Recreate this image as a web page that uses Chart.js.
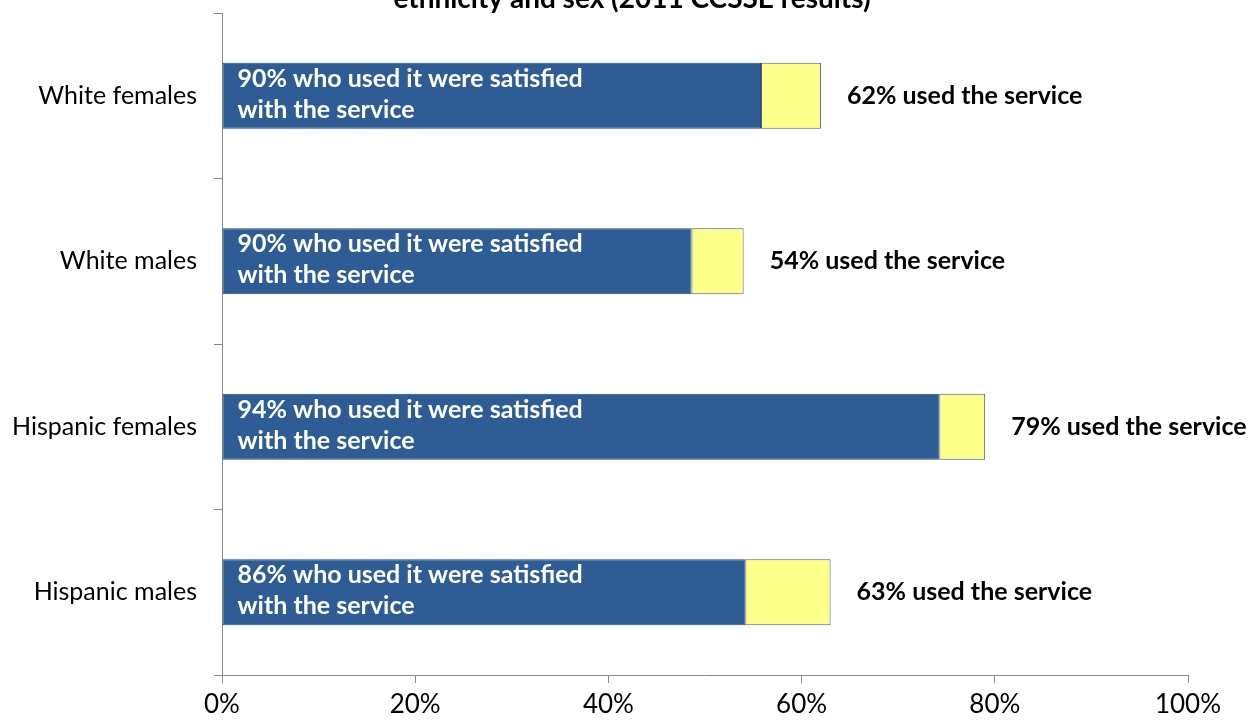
<!DOCTYPE html>
<html>
<head>
<meta charset="utf-8">
<script src="https://cdn.jsdelivr.net/npm/chart.js@4"></script>
<style>
  html, body { margin: 0; padding: 0; background: #fff; }
  #wrap { width: 1254px; height: 720px; }
</style>
</head>
<body>
<div id="wrap"><canvas id="usage"></canvas></div>
<script>
const groups = ["White females", "White males", "Hispanic females", "Hispanic males"];
const usedPct = [62, 54, 79, 63];        // share who used the service
const satisfiedPct = [90, 90, 94, 86];   // share of users who were satisfied
const xTicks = ["0%", "20%", "40%", "60%", "80%", "100%"];
const titleText = "ethnicity and sex (2011 CCSSE results)";

// split each bar: satisfied users, then the rest of the users
const satisfiedPart = usedPct.map((u, i) => u * satisfiedPct[i] / 100);
const otherPart = usedPct.map((u, i) => u - satisfiedPart[i]);

const FONT = "Lato, 'Open Sans', sans-serif";

// title sits at the very top edge, so its upper half runs off the canvas
const topTitle = {
    id: "topTitle",
    afterDraw(chart) {
        const ctx = chart.ctx;
        ctx.save();
        ctx.font = "bold 28px " + FONT;
        ctx.fillStyle = "#000";
        ctx.textAlign = "center";
        ctx.textBaseline = "alphabetic";
        ctx.fillText(titleText, 632, 8);
        ctx.restore();
    }
};

const barText = {
    id: "barText",
    afterDatasetsDraw(chart) {
        const ctx = chart.ctx;
        const blue = chart.getDatasetMeta(0).data;
        const yellow = chart.getDatasetMeta(1).data;
        ctx.save();
        ctx.font = "bold 25px " + FONT;
        ctx.textBaseline = "middle";
        ctx.textAlign = "left";
        blue.forEach(function(bar, i) {
            const left = Math.min(bar.x, bar.base);
            ctx.fillStyle = "#ffffff";
            ctx.fillText(satisfiedPct[i] + "% who used it were satisfied", left + 15, bar.y - 17);
            ctx.fillText("with the service", left + 15, bar.y + 14);
            ctx.fillStyle = "#000000";
            ctx.fillText(usedPct[i] + "% used the service", yellow[i].x + 26, bar.y);
        });
        ctx.restore();
    }
};

const chart = new Chart(document.getElementById("usage"), {
    type: "bar",
    data: {
        labels: groups,
        datasets: [
            {
                data: satisfiedPart,
                backgroundColor: "#2E5C94",
                borderColor: "#23497A",
                borderWidth: 1,
                borderSkipped: false,
                categoryPercentage: 1,
                barPercentage: 0.4
            },
            {
                data: otherPart,
                backgroundColor: "#FCFF88",
                borderColor: "#4F5F80",
                borderWidth: 1,
                borderSkipped: false,
                categoryPercentage: 1,
                barPercentage: 0.4
            }
        ]
    },
    options: {
        indexAxis: "y",
        responsive: true,
        maintainAspectRatio: false,
        animation: false,
        layout: { padding: { left: 0, right: 66, top: 13, bottom: 0 } },
        plugins: {
            legend: { display: false },
            tooltip: { enabled: false },
            title: { display: false }
        },
        scales: {
            x: {
                stacked: true,
                min: 0,
                max: 100,
                afterFit(scale) { scale.height = 45; },
                afterBuildTicks(scale) {
                    scale.ticks = xTicks.map((t, i) => ({ value: i * 20 }));
                },
                ticks: {
                    color: "#000",
                    padding: 6,
                    maxRotation: 0,
                    font: { family: FONT, size: 26 },
                    callback: (v, i) => xTicks[i]
                },
                grid: { drawOnChartArea: false, tickLength: 8, color: "#8a8a8a" },
                border: { color: "#8a8a8a", width: 1 }
            },
            y: {
                stacked: true,
                afterFit(scale) {
                    scale.width = 222;
                    scale.paddingTop = 0;
                    scale.paddingBottom = 0;
                },
                ticks: {
                    color: "#000",
                    padding: 17,
                    font: { family: FONT, size: 25 }
                },
                grid: { drawOnChartArea: false, offset: true, tickLength: 8, color: "#8a8a8a" },
                border: { color: "#8a8a8a", width: 1 }
            }
        }
    },
    plugins: [barText, topTitle]
});
</script>
</body>
</html>
